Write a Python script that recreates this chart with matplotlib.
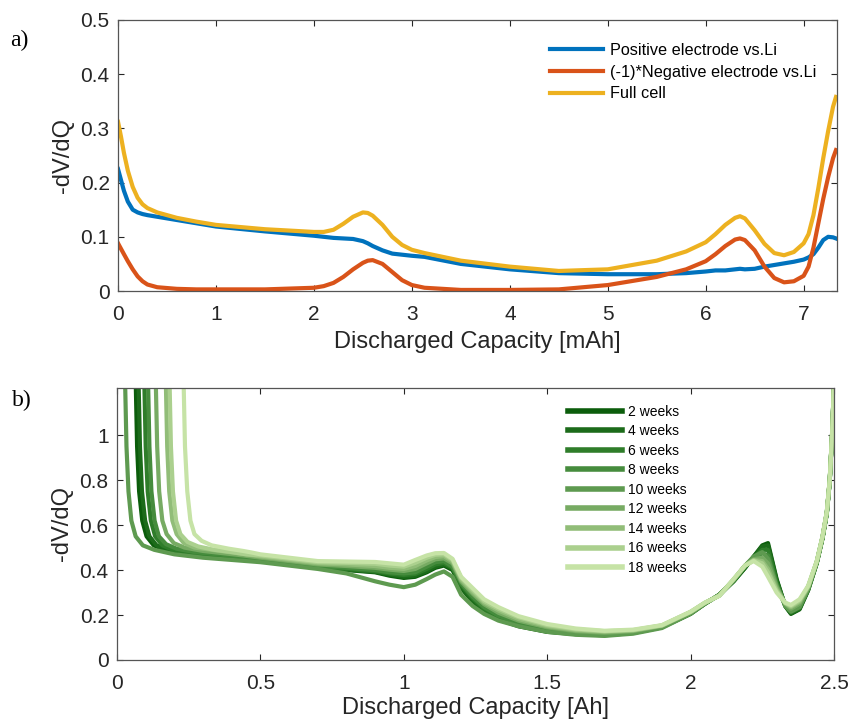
import numpy as np
import matplotlib.pyplot as plt
from matplotlib.ticker import FuncFormatter

plt.rcParams['font.family'] = ['Liberation Sans', 'DejaVu Sans']

# ---- panel a data (capacity in mAh, -dV/dQ) ----
cap_a = [0, 0.03, 0.06, 0.1, 0.15, 0.2, 0.25, 0.3, 0.4, 0.6,
         0.8, 1.0, 1.5, 2.0, 2.1, 2.2, 2.3, 2.4, 2.5, 2.55,
         2.6, 2.7, 2.8, 2.9, 3.0, 3.13, 3.5, 4.0, 4.5, 5.0,
         5.5, 5.8, 6.0, 6.1, 6.2, 6.3, 6.35, 6.4, 6.5, 6.6,
         6.7, 6.8, 6.9, 7.0, 7.05, 7.1, 7.15, 7.2, 7.25, 7.3,
         7.33]
positive = [0.225, 0.205, 0.185, 0.165, 0.15, 0.145, 0.142, 0.14, 0.137, 0.131,
            0.125, 0.119, 0.11, 0.102, 0.1, 0.098, 0.097, 0.096, 0.092, 0.088,
            0.083, 0.075, 0.069, 0.067, 0.065, 0.063, 0.05, 0.04, 0.033, 0.031,
            0.031, 0.033, 0.036, 0.038, 0.038, 0.04, 0.041, 0.04, 0.041, 0.045,
            0.048, 0.051, 0.054, 0.058, 0.062, 0.068, 0.08, 0.094, 0.1, 0.099,
            0.097]
negative = [0.088, 0.078, 0.068, 0.055, 0.04, 0.027, 0.018, 0.012, 0.007, 0.004,
            0.003, 0.003, 0.003, 0.006, 0.009, 0.015, 0.026, 0.04, 0.052, 0.056,
            0.057, 0.05, 0.035, 0.02, 0.011, 0.006, 0.002, 0.002, 0.003, 0.011,
            0.026, 0.04, 0.055, 0.068, 0.083, 0.095, 0.097, 0.094, 0.075, 0.045,
            0.024, 0.016, 0.018, 0.028, 0.045, 0.08, 0.125, 0.17, 0.21, 0.245,
            0.26]
fullcell = [0.312, 0.285, 0.255, 0.222, 0.192, 0.172, 0.16, 0.153, 0.145, 0.135,
            0.128, 0.122, 0.114, 0.109, 0.109, 0.113, 0.124, 0.137, 0.145, 0.144,
            0.139, 0.122, 0.1, 0.085, 0.076, 0.07, 0.056, 0.045, 0.037, 0.04,
            0.056, 0.073, 0.09, 0.105, 0.122, 0.135, 0.138, 0.134, 0.112, 0.087,
            0.07, 0.066, 0.072, 0.088, 0.105, 0.14, 0.19, 0.245, 0.295, 0.34,
            0.358]
labels_a = ['Positive electrode vs.Li', '(-1)*Negative electrode vs.Li', 'Full cell']
colors_a = ['#0072BD', '#D95319', '#EDB120']

# ---- panel b data (capacity in Ah) ----
weeks = ['2 weeks', '4 weeks', '6 weeks', '8 weeks', '10 weeks', '12 weeks', '14 weeks',
         '16 weeks', '18 weeks']
greens = ['#0b5d0b', '#1c6b1a', '#2f7d2a', '#468c3d', '#5e9a50', '#77ab63', '#91bd78',
          '#abd08e', '#c6e3a6']

# steep start of each curve
x_left = [
    [0.065, 0.07, 0.077, 0.088, 0.103, 0.128, 0.165, 0.23, 0.32, 0.42],
    [0.075, 0.08, 0.087, 0.098, 0.113, 0.138, 0.175, 0.24, 0.33, 0.42],
    [0.095, 0.1, 0.107, 0.118, 0.133, 0.158, 0.195, 0.26, 0.34, 0.42],
    [0.108, 0.113, 0.12, 0.131, 0.146, 0.171, 0.208, 0.27, 0.35, 0.43],
    [0.028, 0.033, 0.04, 0.05, 0.065, 0.09, 0.13, 0.2, 0.3, 0.4],
    [0.135, 0.14, 0.147, 0.158, 0.173, 0.198, 0.235, 0.3, 0.37, 0.44],
    [0.17, 0.175, 0.182, 0.193, 0.208, 0.233, 0.27, 0.33, 0.39, 0.45],
    [0.183, 0.188, 0.195, 0.206, 0.221, 0.246, 0.283, 0.34, 0.4, 0.45],
    [0.232, 0.237, 0.245, 0.256, 0.27, 0.295, 0.33, 0.39, 0.44, 0.47],
]
y_left = [
    [1.25, 0.95, 0.75, 0.62, 0.55, 0.51, 0.49, 0.47, 0.46, 0.45],
    [1.25, 0.95, 0.75, 0.62, 0.55, 0.51, 0.49, 0.47, 0.46, 0.45],
    [1.25, 0.95, 0.75, 0.62, 0.55, 0.51, 0.49, 0.475, 0.465, 0.455],
    [1.25, 0.95, 0.75, 0.62, 0.55, 0.515, 0.495, 0.48, 0.47, 0.46],
    [1.25, 0.95, 0.75, 0.62, 0.55, 0.51, 0.49, 0.47, 0.455, 0.445],
    [1.25, 0.95, 0.75, 0.62, 0.56, 0.52, 0.5, 0.485, 0.475, 0.465],
    [1.25, 0.95, 0.75, 0.62, 0.56, 0.52, 0.5, 0.49, 0.48, 0.47],
    [1.25, 0.95, 0.75, 0.62, 0.56, 0.525, 0.505, 0.49, 0.48, 0.47],
    [1.25, 0.95, 0.75, 0.62, 0.56, 0.53, 0.51, 0.495, 0.485, 0.478],
]
x_mid = [0.5, 0.6, 0.7, 0.8, 0.9, 0.95, 1.0, 1.04, 1.08, 1.11,
         1.14, 1.17, 1.2, 1.24, 1.28, 1.33, 1.4, 1.5, 1.6, 1.7,
         1.8, 1.9, 2.0, 2.05, 2.1, 2.15, 2.19, 2.22, 2.25, 2.27,
         2.3, 2.33, 2.35, 2.38, 2.41, 2.44, 2.46, 2.475, 2.485, 2.495,
         2.5]
y_mid = [
    # 2 weeks
    [0.44, 0.425, 0.41, 0.4, 0.39, 0.375, 0.365, 0.37, 0.39, 0.41,
     0.42, 0.4, 0.32, 0.26, 0.215, 0.18, 0.15, 0.125, 0.115, 0.11,
     0.12, 0.145, 0.205, 0.25, 0.29, 0.35, 0.41, 0.46, 0.51, 0.52,
     0.36, 0.24, 0.205, 0.225, 0.31, 0.43, 0.54, 0.65, 0.79, 1.04,
     1.25],
    # 4 weeks
    [0.44, 0.425, 0.412, 0.402, 0.392, 0.38, 0.37, 0.375, 0.395, 0.415,
     0.425, 0.405, 0.325, 0.265, 0.22, 0.183, 0.152, 0.127, 0.116, 0.111,
     0.121, 0.146, 0.207, 0.25, 0.29, 0.35, 0.41, 0.46, 0.505, 0.51,
     0.355, 0.24, 0.207, 0.228, 0.312, 0.432, 0.542, 0.652, 0.792, 1.042,
     1.25],
    # 6 weeks
    [0.445, 0.43, 0.415, 0.405, 0.395, 0.385, 0.378, 0.383, 0.405, 0.425,
     0.432, 0.41, 0.335, 0.275, 0.228, 0.19, 0.158, 0.131, 0.119, 0.114,
     0.123, 0.148, 0.209, 0.251, 0.289, 0.352, 0.415, 0.455, 0.49, 0.49,
     0.345, 0.243, 0.212, 0.232, 0.315, 0.434, 0.544, 0.654, 0.794, 1.044,
     1.25],
    # 8 weeks
    [0.448, 0.433, 0.418, 0.41, 0.4, 0.39, 0.385, 0.39, 0.415, 0.435,
     0.44, 0.415, 0.342, 0.282, 0.235, 0.197, 0.165, 0.136, 0.122, 0.117,
     0.125, 0.15, 0.21, 0.252, 0.288, 0.354, 0.418, 0.452, 0.475, 0.465,
     0.335, 0.246, 0.22, 0.24, 0.318, 0.435, 0.545, 0.655, 0.795, 1.045,
     1.25],
    # 10 weeks
    [0.435, 0.42, 0.405, 0.385, 0.35, 0.335, 0.324, 0.335, 0.36, 0.38,
     0.394, 0.37, 0.29, 0.24, 0.205, 0.175, 0.15, 0.125, 0.112, 0.107,
     0.117, 0.142, 0.205, 0.25, 0.29, 0.355, 0.42, 0.46, 0.48, 0.45,
     0.33, 0.24, 0.215, 0.235, 0.315, 0.435, 0.545, 0.655, 0.795, 1.045,
     1.25],
    # 12 weeks
    [0.455, 0.44, 0.425, 0.418, 0.41, 0.402, 0.396, 0.405, 0.43, 0.448,
     0.452, 0.43, 0.35, 0.295, 0.248, 0.21, 0.175, 0.145, 0.128, 0.121,
     0.128, 0.151, 0.212, 0.253, 0.287, 0.356, 0.42, 0.448, 0.455, 0.43,
     0.325, 0.25, 0.228, 0.25, 0.322, 0.437, 0.547, 0.657, 0.797, 1.047,
     1.25],
    # 14 weeks
    [0.46, 0.445, 0.43, 0.425, 0.418, 0.41, 0.405, 0.418, 0.443, 0.458,
     0.462, 0.438, 0.358, 0.303, 0.255, 0.22, 0.182, 0.15, 0.132, 0.125,
     0.131, 0.153, 0.213, 0.254, 0.286, 0.358, 0.42, 0.445, 0.44, 0.405,
     0.315, 0.252, 0.235, 0.258, 0.326, 0.438, 0.548, 0.658, 0.798, 1.048,
     1.25],
    # 16 weeks
    [0.465, 0.45, 0.435, 0.432, 0.428, 0.42, 0.415, 0.432, 0.455, 0.468,
     0.47, 0.445, 0.365, 0.312, 0.262, 0.228, 0.19, 0.155, 0.136, 0.128,
     0.133, 0.154, 0.214, 0.255, 0.286, 0.359, 0.42, 0.443, 0.43, 0.39,
     0.308, 0.254, 0.24, 0.264, 0.328, 0.439, 0.549, 0.659, 0.799, 1.049,
     1.25],
    # 18 weeks
    [0.47, 0.455, 0.44, 0.438, 0.436, 0.43, 0.424, 0.445, 0.465, 0.475,
     0.476, 0.45, 0.37, 0.32, 0.27, 0.235, 0.195, 0.16, 0.14, 0.13,
     0.135, 0.155, 0.215, 0.255, 0.285, 0.36, 0.42, 0.44, 0.415, 0.37,
     0.3, 0.255, 0.245, 0.27, 0.33, 0.44, 0.55, 0.66, 0.8, 1.05,
     1.25],
]

fig = plt.figure(figsize=(8.51, 7.27), dpi=100)
ax1 = fig.add_axes([0.1387, 0.5997, 0.8448, 0.3728])
ax2 = fig.add_axes([0.1375, 0.0922, 0.8425, 0.3741])

# panel a
for y, lab, c in zip([positive, negative, fullcell], labels_a, colors_a):
    ax1.plot(cap_a, y, color=c, lw=3, label=lab, solid_joinstyle='round')
ax1.set_xlim(0, 7.34)
ax1.set_ylim(0, 0.5)
ax1.set_xticks(range(0, 8))
ax1.set_yticks([0, 0.1, 0.2, 0.3, 0.4, 0.5])
ax1.yaxis.set_major_formatter(FuncFormatter(lambda v, p: '%g' % v))
ax1.set_xlabel('Discharged Capacity [mAh]', fontsize=17, color='#262626', labelpad=5)
ax1.set_ylabel('-dV/dQ', fontsize=17, color='#262626', labelpad=5)
ax1.legend(loc='upper left', bbox_to_anchor=(0.58, 0.97), frameon=False, fontsize=11.7,
           handlelength=3.3, handletextpad=0.4, labelspacing=0.42)

# panel b
for i in range(len(weeks)):
    xs = x_left[i] + x_mid
    ys = y_left[i] + y_mid[i]
    ax2.plot(xs, ys, color=greens[i], lw=3, label=weeks[i], solid_joinstyle='round')
ax2.set_xlim(0, 2.5)
ax2.set_ylim(0, 1.21)
ax2.set_xticks([0, 0.5, 1, 1.5, 2, 2.5])
ax2.set_yticks([0, 0.2, 0.4, 0.6, 0.8, 1])
ax2.xaxis.set_major_formatter(FuncFormatter(lambda v, p: '%g' % v))
ax2.yaxis.set_major_formatter(FuncFormatter(lambda v, p: '%g' % v))
ax2.set_xlabel('Discharged Capacity [Ah]', fontsize=17, color='#262626', labelpad=3)
ax2.set_ylabel('-dV/dQ', fontsize=17, color='#262626', labelpad=5)
leg = ax2.legend(loc='upper left', bbox_to_anchor=(0.612, 0.985), frameon=False, fontsize=10,
                 handlelength=3.9, handletextpad=0.4, labelspacing=0.4)
for h in leg.get_lines():
    h.set_linewidth(4)

for ax in (ax1, ax2):
    ax.tick_params(direction='in', top=True, right=True, length=4, width=0.8,
                   labelsize=15, colors='#262626')
    ax.tick_params(axis='x', pad=10)
    ax.tick_params(axis='y', pad=6)
    for s in ax.spines.values():
        s.set_color('#555555')
        s.set_linewidth(0.9)

fig.text(0.012, 0.937, 'a)', fontsize=17, family=['Liberation Serif', 'DejaVu Serif'])
fig.text(0.014, 0.441, 'b)', fontsize=17, family=['Liberation Serif', 'DejaVu Serif'])

fig.savefig('out.png', dpi=100)
